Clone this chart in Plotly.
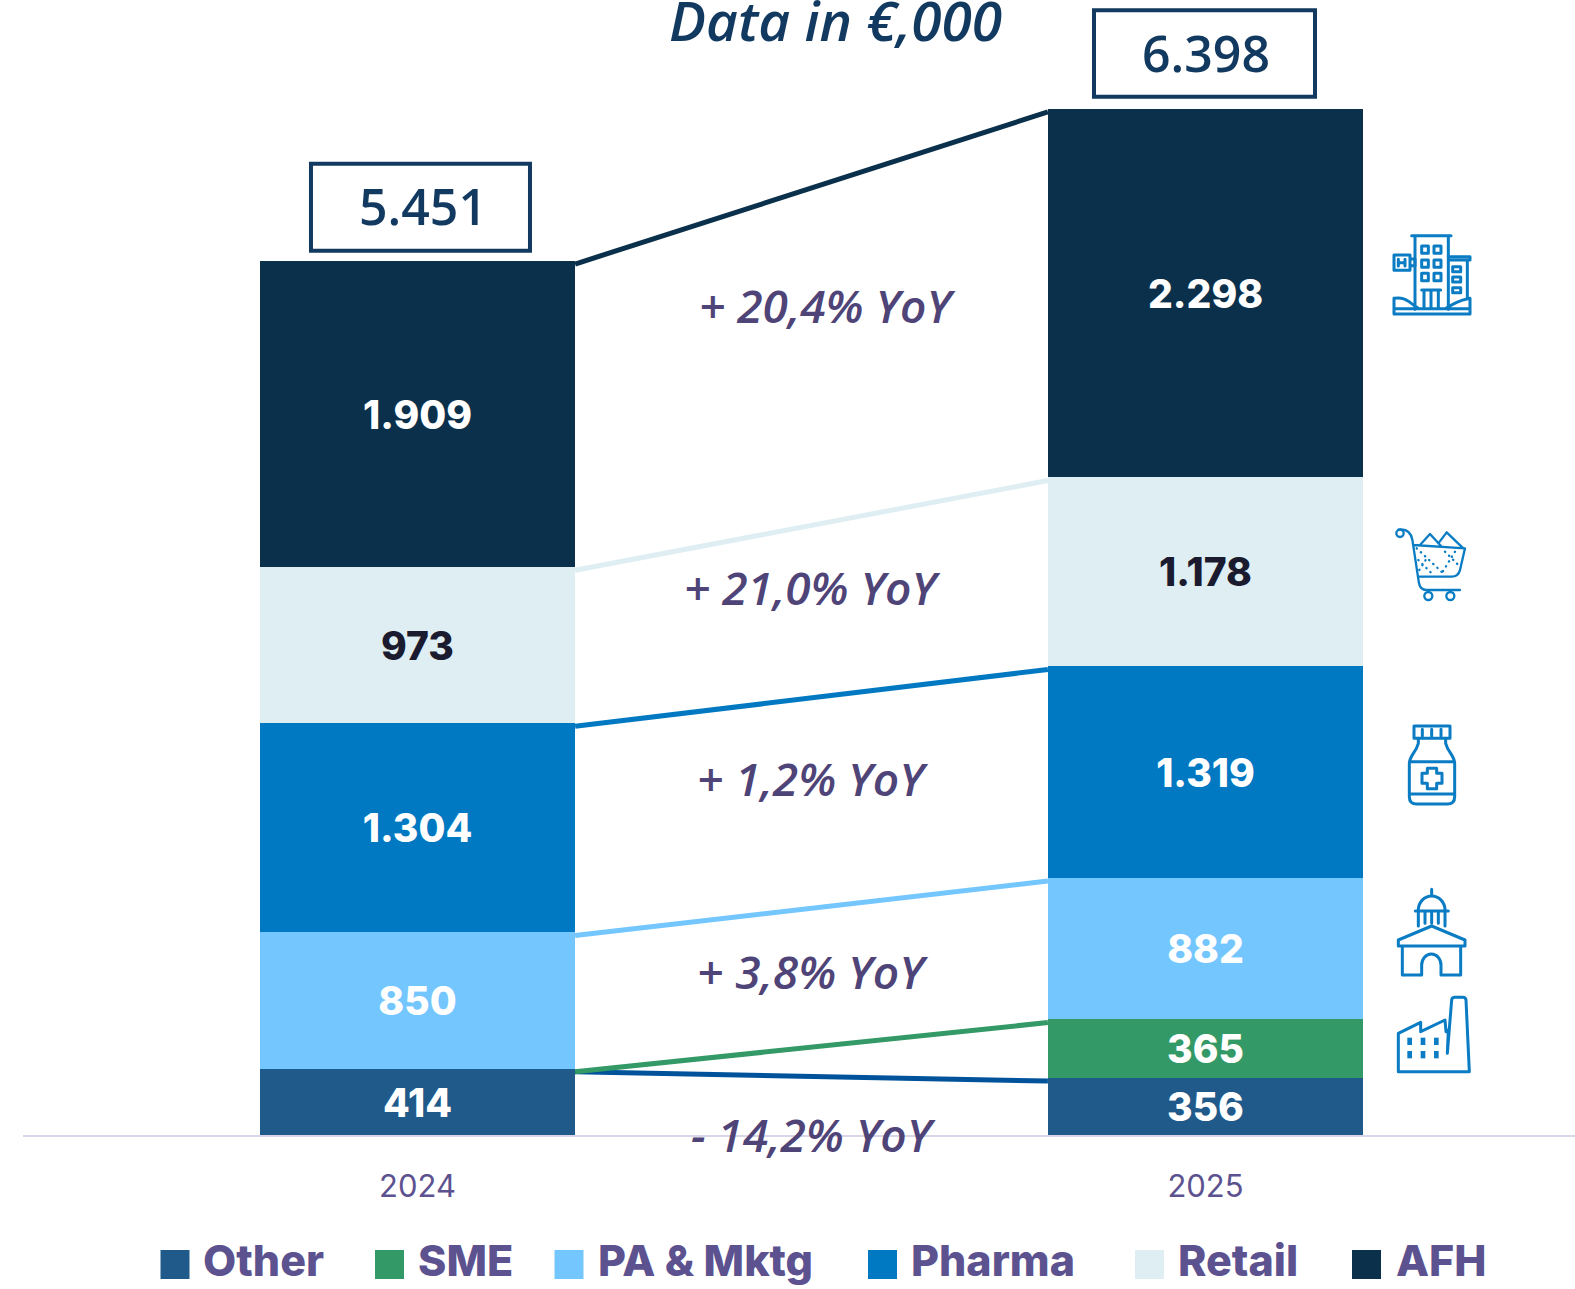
import base64
import numpy as np
import plotly.graph_objects as go

years = ["2024", "2025"]
segments = ["Other", "SME", "PA & Mktg", "Pharma", "Retail", "AFH"]
other = [414, 356]
sme = [0, 365]
pa_mktg = [850, 882]
pharma = [1304, 1319]
retail = [973, 1178]
afh = [1909, 2298]
totals = [5451, 6398]
yoy_labels = ["+ 20,4% YoY", "+ 21,0% YoY", "+ 1,2% YoY", "+ 3,8% YoY", "- 14,2% YoY"]

series = [other, sme, pa_mktg, pharma, retail, afh]
bar_colors = ["#1F5A8B", "#339966", "#74C6FF", "#0079C2", "#DEEEF3", "#0A304B"]
line_colors = ["#00539B", "#339966", "#74C6FF", "#0079C2", "#DEEEF3", "#0A304B"]
text_colors = ["#FFFFFF", "#FFFFFF", "#FFFFFF", "#FFFFFF", "#1B1B2F", "#FFFFFF"]

W, H = 1575, 1289
ML, MB = 23, 154
PW, PH = W - ML, H - MB
BOLD = "Inter"
SOFT = "Open Sans"
NAVY = "#12395F"
PURPLE = "#5C5290"
YOY = "#4F4478"
ICON = "#0A7CC4"


def fmt(v):
    return f"{v:,}".replace(",", ".") if v else ""


def xp(x):
    return (x - ML) / PW


def yp(y):
    return (PH - y) / PH


xs = [0, 1]
fig = go.Figure()
for name, vals, bc, tc in zip(segments, series, bar_colors, text_colors):
    fig.add_bar(
        x=xs, y=vals, name=name, width=0.4, marker=dict(color=bc, line_width=0),
        text=[fmt(v) for v in vals], textposition="inside", insidetextanchor="middle",
        textangle=0, constraintext="none",
        textfont=dict(family=BOLD, size=39, color=tc, weight=800),
        showlegend=False,
    )

tops = np.cumsum(np.array(series), axis=0)
for i, name in enumerate(segments):
    fig.add_scatter(
        x=[0.2, 0.8], y=tops[i] - 20, mode="lines", line=dict(color=line_colors[i], width=5),
        showlegend=False, hoverinfo="skip", name=name + " link",
    )

annotations = [
    dict(text="Data in €,000", x=xp(835), y=yp(19), xref="paper", yref="paper", showarrow=False,
         xanchor="center", yanchor="middle",
         font=dict(family=SOFT, size=55, color=NAVY, style="italic", weight=600)),
]
shapes = []
text_xshift = [6, 0]
text_yshift = [55, 56]
box_x = [(-106.5, 112.5), (-111.5, 109.5)]
box_y = [(10, 97), (12, 98.5)]
for i, total in enumerate(totals):
    annotations.append(dict(
        text=fmt(total), x=xs[i], y=total, xref="x", yref="y", showarrow=False,
        xshift=text_xshift[i], yshift=text_yshift[i], yanchor="middle", xanchor="center",
        font=dict(family=SOFT, size=50, color=NAVY, weight=600),
    ))
    shapes.append(dict(
        type="rect", xref="x", yref="y", xsizemode="pixel", ysizemode="pixel",
        xanchor=xs[i], yanchor=total, x0=box_x[i][0], x1=box_x[i][1], y0=box_y[i][0], y1=box_y[i][1],
        line=dict(color=NAVY, width=4), fillcolor="rgba(0,0,0,0)",
    ))
yoy_pos = [(827, 305), (812, 587), (812, 778), (812, 971), (813, 1134)]
for label, (px, py) in zip(yoy_labels, yoy_pos):
    annotations.append(dict(
        text=label, x=xp(px), y=yp(py), xref="paper", yref="paper", showarrow=False,
        xanchor="center", yanchor="middle",
        font=dict(family=SOFT, size=46, color=YOY, style="italic", weight=600),
    ))

legend_x = [(160.5, 201), (375, 416), (554.5, 596), (868, 909), (1135, 1176), (1352, 1394)]
for name, col, (sx, tx) in zip(segments, bar_colors, legend_x):
    shapes.append(dict(type="rect", xref="paper", yref="paper", x0=xp(sx), x1=xp(sx + 29),
                       y0=yp(1279), y1=yp(1250), fillcolor=col, line_width=0))
    annotations.append(dict(
        text=name, x=xp(tx), y=yp(1260), xref="paper", yref="paper", xanchor="left", yanchor="middle",
        showarrow=False, font=dict(family=BOLD, size=43, color=PURPLE, weight=800),
    ))


def stroke(width):
    return f'fill="none" stroke="{ICON}" stroke-width="{width}" stroke-linejoin="round" stroke-linecap="round"'


ST = stroke(9)
hotel = f'''<g {ST}>
<path d="M125,47H243 M135,50V268 M235,50V268 M155,78h20v22h-20z M192,78h21v22h-21z M155,120h20v22h-20z M192,120h21v22h-21z M155,160h20v22h-20z M192,160h21v22h-21z"/>
<path d="M155,210h57 M162,210V265 M183,210V265 M205,210V265 M72,105h48v46h-48z M120,117h15v20h-15z M85,118V138 M105,118V138 M85,128H105"/>
<path d="M235,110H300V120H235 M292,120V235 M248,140h24v15h-24z M248,171h24v15h-24z M248,203h24v15h-24z"/>
<path d="M72,235q25,-5 45,10t28,20 M300,235q-25,5 -40,12t-32,18 M72,235V282H300V235 M72,266H300"/></g>'''
cart = f'''<g {stroke(7)}><circle cx="90" cy="40" r="11"/>
<path d="M85,29q35,-5 42,30L147,190q4,20 22,20H270 M130,75L285,85L270,150q-5,20 -25,20H145 M150,75L180,42L215,80 M205,70L230,37L280,85"/>
<circle cx="175" cy="228" r="12"/><circle cx="241" cy="228" r="12"/>
<path stroke-dasharray="1 16" d="M140,85L225,165 M145,120L190,165 M225,95L265,135 M255,95L215,160 M148,150L170,115"/></g>'''
bottle = f'''<g {ST}><path d="M132,48H240V85H132Z M157,58V78 M185,58V78 M213,58V78"/>
<path d="M145,85V100q-4,15 -15,30q-12,18 -12,32V260q0,22 22,22H232q22,0 22,-22V162q0,-14 -12,-32q-11,-15 -15,-30V85 M118,155H254 M118,252H254"/>
<path d="M172,175H200V190H216V220H200V236H172V220H156V190H172Z"/></g>'''
capitol = f'''<g {ST}><path d="M185,538V558 M145,600a40,42 0 0 1 80,0 M136,603H235 M145,605V648 M165,605V640 M185,605V640 M205,605V640 M225,605V648"/>
<path d="M85,690L185,648L285,690V708H85Z M97,708V795H155V765a29,33 0 0 1 58,0V795H272V708"/></g>'''
factory = f'''<g {ST}><path d="M85,1085V970L152,937V965L225,930L228,965L235,960L232,1030L245,870q1,-8 10,-8H278q9,0 10,8L298,1085Z"/></g>
<g fill="{ICON}"><rect x="112" y="983" width="14" height="22"/><rect x="152" y="983" width="14" height="22"/><rect x="192" y="983" width="14" height="22"/>
<rect x="112" y="1023" width="14" height="22"/><rect x="152" y="1023" width="14" height="22"/><rect x="192" y="1023" width="14" height="22"/></g>'''

# (svg body, crop left, crop top, width, height)
icons = [
    (hotel, 1370, 220, 120, 110),
    (cart, 1370, 520, 120, 90),
    (bottle, 1370, 710, 120, 110),
    (capitol, 1370, 710, 120, 280),
    (factory, 1370, 710, 120, 380),
]
images = []
for body, x0, y0, w, h in icons:
    svg = (f'<svg xmlns="http://www.w3.org/2000/svg" width="{w*3}" height="{h*3}" '
           f'viewBox="0 0 {w*3} {h*3}">{body}</svg>')
    uri = "data:image/svg+xml;base64," + base64.b64encode(svg.encode()).decode()
    images.append(dict(source=uri, xref="paper", yref="paper", x=xp(x0), y=yp(y0),
                       sizex=w / PW, sizey=h / PH, xanchor="left", yanchor="top",
                       sizing="stretch", layer="above"))

fig.update_layout(
    width=W, height=H, barmode="stack", bargap=0,
    margin=dict(l=ML, r=0, t=0, b=MB, autoexpand=False),
    paper_bgcolor="white", plot_bgcolor="white", showlegend=False,
    annotations=annotations, shapes=shapes, images=images,
    xaxis=dict(range=[-0.5006, 1.4689], tickmode="array", tickvals=xs, ticktext=years,
               showgrid=False, zeroline=False, showline=True, linecolor="#D8D6E8", linewidth=2,
               ticks="", ticklabelstandoff=23, tickfont=dict(family="Inter", size=31, color=PURPLE)),
    yaxis=dict(range=[0, 7076], visible=False, showgrid=False, zeroline=False),
)
fig.write_html("out.html", config=dict(displayModeBar=False),
               post_script="document.body.style.margin='0';")
